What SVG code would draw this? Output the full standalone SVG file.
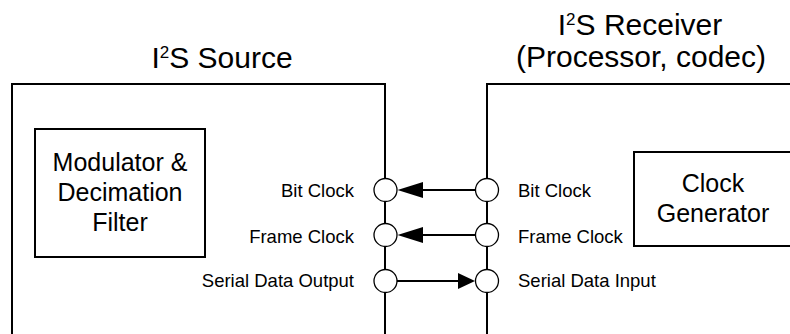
<svg xmlns="http://www.w3.org/2000/svg" width="790" height="334" viewBox="0 0 790 334">
<style>
.t{font-family:"Liberation Sans",Arial,sans-serif;fill:#000}
.title{font-size:30px;text-anchor:middle}
.sup{font-size:17px}
.lbl{font-size:18.5px}
.box{font-size:25px;text-anchor:middle}
.edge{fill:none;stroke:#000;stroke-width:2}
.pin{fill:#fff;stroke:#000;stroke-width:1.3}
.wire{stroke:#000;stroke-width:2;fill:none}
</style>
<rect width="790" height="334" fill="#fff"/>
<g id="source">
<path class="edge" d="M12,340 V84 H385 V340"/>
<text class="t title" x="222" y="68">I<tspan class="sup" dy="-10">2</tspan><tspan dy="10">S Source</tspan></text>
<text class="t lbl" x="354" y="197" text-anchor="end">Bit Clock</text>
<text class="t lbl" x="354" y="243" text-anchor="end">Frame Clock</text>
<text class="t lbl" x="354" y="287" text-anchor="end">Serial Data Output</text>
</g>
<g id="modulator">
<rect class="edge" x="35" y="129" width="170" height="128"/>
<text class="t box" x="120" y="171">Modulator &amp;</text>
<text class="t box" x="120" y="201">Decimation</text>
<text class="t box" x="120" y="231">Filter</text>
</g>
<g id="receiver">
<path class="edge" d="M487,340 V84 H795"/>
<text class="t title" x="640" y="35">I<tspan class="sup" dy="-10">2</tspan><tspan dy="10">S Receiver</tspan></text>
<text class="t title" x="641" y="67">(Processor, codec)</text>
<text class="t lbl" x="518" y="197">Bit Clock</text>
<text class="t lbl" x="518" y="243">Frame Clock</text>
<text class="t lbl" x="518" y="287">Serial Data Input</text>
</g>
<g id="clockgen">
<path class="edge" d="M795,152 H634 V246 H795"/>
<text class="t box" x="713" y="192">Clock</text>
<text class="t box" x="713" y="222">Generator</text>
</g>
<g id="connectors">
<line class="wire" x1="475" y1="190" x2="420" y2="190"/>
<polygon points="397.5,190 423,182 423,198" fill="#000"/>
<line class="wire" x1="475" y1="235" x2="420" y2="235"/>
<polygon points="397.5,235 423,227 423,243" fill="#000"/>
<line class="wire" x1="397" y1="281" x2="460" y2="281"/>
<polygon points="475,281 458,273 458,289" fill="#000"/>
</g>
<g id="pins">
<circle class="pin" cx="385.5" cy="190" r="11.5"/>
<circle class="pin" cx="385.5" cy="235" r="11.5"/>
<circle class="pin" cx="385.5" cy="281" r="11.5"/>
<circle class="pin" cx="487" cy="190" r="11.5"/>
<circle class="pin" cx="487" cy="235" r="11.5"/>
<circle class="pin" cx="487" cy="281" r="11.5"/>
</g>
</svg>
